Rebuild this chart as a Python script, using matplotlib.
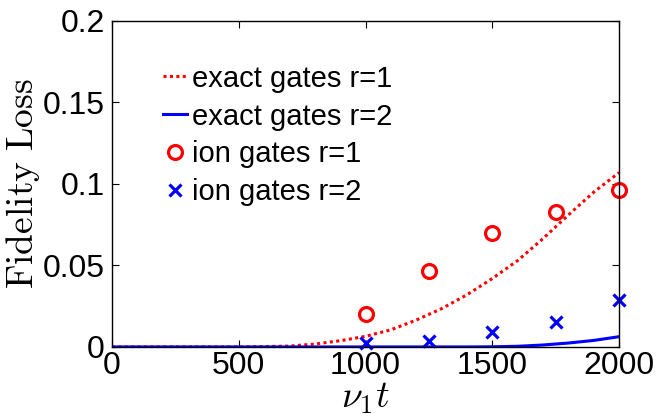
import matplotlib
matplotlib.use("Agg")
import matplotlib.pyplot as plt

# Curvas exactas
t_exacta_r1 = [0, 500, 700, 800, 900, 1000, 1100, 1200, 1300, 1400, 1500,
               1600, 1700, 1800, 1900, 2000]
perdida_exacta_r1 = [0, 0, 0.0005, 0.0018, 0.0038, 0.0065, 0.0105, 0.0165,
                     0.0235, 0.032, 0.042, 0.053, 0.0665, 0.081, 0.095, 0.107]

t_exacta_r2 = [0, 1400, 1500, 1600, 1700, 1800, 1900, 2000]
perdida_exacta_r2 = [0, 0, 0.0001, 0.0004, 0.0012, 0.0024, 0.0040, 0.0063]

# Puertas de iones
t_iones = [1000, 1250, 1500, 1750, 2000]
perdida_iones_r1 = [0.0202, 0.0468, 0.0697, 0.083, 0.0963]
perdida_iones_r2 = [0.0023, 0.0037, 0.009, 0.0151, 0.0288]

xticks = [0, 500, 1000, 1500, 2000]
yticks = [0, 0.05, 0.1, 0.15, 0.2]

plt.rcParams["font.family"] = ["Liberation Sans", "DejaVu Sans"]
plt.rcParams["mathtext.fontset"] = "cm"

fig = plt.figure(figsize=(6.58, 4.18), dpi=100)
ax = fig.add_axes([0.170, 0.170, 0.771, 0.780])

ax.plot(t_exacta_r1, perdida_exacta_r1, color="red", linewidth=2.2,
        linestyle=(0, (1, 1.1)), label="exact gates r=1")
ax.plot(t_exacta_r2, perdida_exacta_r2, color="blue", linewidth=2.2,
        label="exact gates r=2")
ax.plot(t_iones, perdida_iones_r1, linestyle="none", marker="o", markersize=10,
        markerfacecolor="none", markeredgecolor="red", markeredgewidth=2.3,
        clip_on=False, label="ion gates r=1")
ax.plot(t_iones, perdida_iones_r2, linestyle="none", marker="x", markersize=9,
        markeredgecolor="blue", markeredgewidth=2.3, clip_on=False,
        label="ion gates r=2")

ax.set_xlim(0, 2000)
ax.set_ylim(0, 0.2)
ax.set_xticks(xticks)
ax.set_yticks(yticks)
ax.set_yticklabels(["0", "0.05", "0.1", "0.15", "0.2"])
ax.tick_params(direction="in", length=5, width=0.8, top=True, right=True,
               labelsize=23)
ax.tick_params(axis="x", pad=3)
ax.tick_params(axis="y", pad=5)
for s in ax.spines.values():
    s.set_linewidth(1.0)

ax.set_xlabel(r"$\nu_1 t$", fontsize=27, labelpad=-1)
ax.set_ylabel(r"$\mathrm{Fidelity\ Loss}$", fontsize=27, labelpad=1)

ax.legend(loc="upper left", bbox_to_anchor=(0.10, 0.866), frameon=False,
          fontsize=21, borderpad=0, handlelength=0.85, handletextpad=0.15,
          labelspacing=0.34, numpoints=1, borderaxespad=0)

fig.savefig("out.png", dpi=100)
